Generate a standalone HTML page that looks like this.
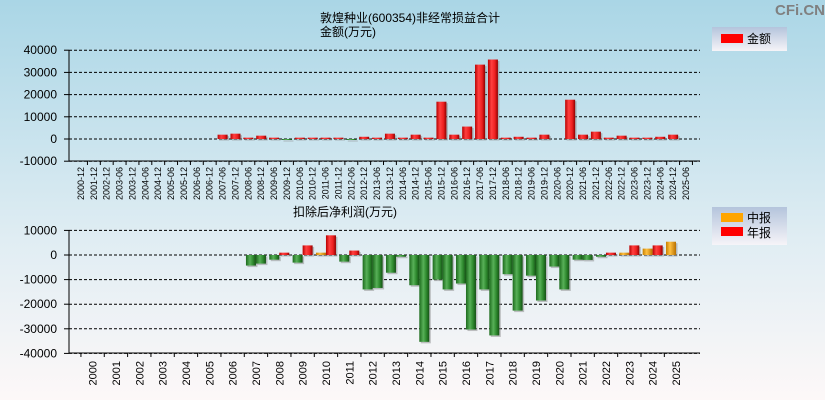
<!DOCTYPE html>
<html><head><meta charset="utf-8">
<style>
body{margin:0;width:825px;height:400px;overflow:hidden;font-family:"Liberation Sans","Noto Sans CJK SC",sans-serif;}
svg{display:block}
</style></head>
<body>
<svg id="c" width="825" height="400" xmlns="http://www.w3.org/2000/svg">
<defs>
<linearGradient id="bg" x1="0" y1="0" x2="0" y2="1"><stop offset="0" stop-color="#aad6e6"/><stop offset="0.6" stop-color="#e0edf3"/><stop offset="1" stop-color="#fdf8f8"/></linearGradient>
<linearGradient id="gr" x1="0" x2="1"><stop offset="0" stop-color="#b80000"/><stop offset="0.35" stop-color="#ff4040"/><stop offset="0.7" stop-color="#ee2020"/><stop offset="1" stop-color="#900000"/></linearGradient>
<linearGradient id="gg" x1="0" x2="1"><stop offset="0" stop-color="#1d6b1d"/><stop offset="0.4" stop-color="#58b058"/><stop offset="0.7" stop-color="#2e8a2e"/><stop offset="1" stop-color="#155015"/></linearGradient>
<linearGradient id="go" x1="0" x2="1"><stop offset="0" stop-color="#c88000"/><stop offset="0.4" stop-color="#ffc040"/><stop offset="1" stop-color="#b87000"/></linearGradient>
<linearGradient id="lg" x1="0" y1="0" x2="0" y2="1"><stop offset="0" stop-color="#b4c4dc"/><stop offset="1" stop-color="#f6f4f8"/></linearGradient>
</defs>
<rect width="825" height="400" fill="url(#bg)"/>
<text x="800" y="15" font-size="15" font-weight="bold" fill="#808080" text-anchor="middle">CFi.CN</text>
<text x="410" y="22" font-size="12" text-anchor="middle">敦煌种业(600354)非经常损益合计</text>
<text x="348" y="36" font-size="12" text-anchor="middle">金额(万元)</text>
<text x="345" y="216" font-size="12" text-anchor="middle">扣除后净利润(万元)</text>
<g>
<rect x="712" y="27" width="75" height="24" fill="url(#lg)"/>
<rect x="721" y="34" width="22" height="9" fill="#ff0000"/>
<text x="747" y="43" font-size="12">金额</text>
</g>
<g>
<rect x="712" y="207" width="75" height="38" fill="url(#lg)"/>
<rect x="721" y="213" width="22" height="9" fill="#ffa500"/>
<text x="747" y="222" font-size="12">中报</text>
<rect x="721" y="227" width="22" height="9" fill="#ff0000"/>
<text x="747" y="237" font-size="12">年报</text>
</g>
<g id="top"></g><g id="bot"></g>
</svg>
<script>
const topCats=["2000-12","2001-12","2002-12","2003-06","2003-12","2004-06","2004-12","2005-06","2005-12","2006-06","2006-12","2007-06","2007-12","2008-06","2008-12","2009-06","2009-12","2010-06","2010-12","2011-06","2011-12","2012-06","2012-12","2013-06","2013-12","2014-06","2014-12","2015-06","2015-12","2016-06","2016-12","2017-06","2017-12","2018-06","2018-12","2019-06","2019-12","2020-06","2020-12","2021-06","2021-12","2022-06","2022-12","2023-06","2023-12","2024-06","2024-12","2025-06"];
const topVals=[null,null,null,null,null,null,null,null,null,null,null,1950,2400,600,1500,600,-300,600,600,600,600,-300,1000,600,2400,600,1950,600,16800,1950,5600,33500,35800,600,1000,600,1950,null,17700,1950,3300,600,1500,600,600,1000,1950,null];
const topTicks=[40000,30000,20000,10000,0,-10000];
const botCats=["2000","2001","2002","2003","2004","2005","2006","2007","2008","2009","2010","2011","2012","2013","2014","2015","2016","2017","2018","2019","2020","2021","2022","2023","2024","2025"];
const botHalf=[null,null,null,null,null,null,null,-4300,-1900,-3100,950,-2700,-14000,-7200,-12300,-10000,-11600,-14000,-7800,-8400,-4700,-1900,-700,950,2600,5400];
const botYear=[null,null,null,null,null,null,null,-3500,950,3900,8000,1800,-13400,-700,-35300,-14000,-30300,-32700,-22600,-18500,-14000,-2000,950,3900,3900,null];
const botTicks=[10000,0,-10000,-20000,-30000,-40000];
const NS="http://www.w3.org/2000/svg";
function mk(p,t,a){const e=document.createElementNS(NS,t);for(const k in a)e.setAttribute(k,a[k]);p.appendChild(e);return e;}
const X0=69,X1=700;
function axes(g,ticks,y,yTop,yBot,name){
  ticks.forEach(t=>{
    const yy=y(t);
    const l=mk(g,'line',{x1:X0,x2:X1,y1:yy,y2:yy,stroke:'#000','stroke-dasharray':'3,2','stroke-width':1});
    
    
    mk(g,'line',{x1:X0-5,x2:X0,y1:yy,y2:yy,stroke:'#000'});
    const tx=mk(g,'text',{x:X0-12,y:yy+4,'font-size':12,'text-anchor':'end'});tx.textContent=t;
    
    
  });
  const ax=mk(g,'line',{x1:X0,x2:X0,y1:yTop,y2:yBot,stroke:'#000'});
  
  
  const bx=mk(g,'line',{x1:X0,x2:X1,y1:yBot,y2:yBot,stroke:'#000'});
  
  
}
function bar(g,cx,w,y0,yv,fill,name){
  const top=Math.min(y0,yv),h=Math.max(Math.abs(yv-y0),1);
  mk(g,'rect',{x:cx-w/2+1.5,y:top+1.5,width:w,height:h,fill:'#888','opacity':0.5});
  const r=mk(g,'rect',{x:cx-w/2,y:top,width:w,height:h,fill:fill});
  
  
}
// top chart
(function(){
  const g=document.getElementById('top');
  const y=v=>139-v*22.2/10000;
  axes(g,topTicks,y,50,161,'top');
  const step=(686-81)/(topCats.length-1);
  const x=i=>81+i*step;
  topCats.forEach((c,i)=>{
    mk(g,'line',{x1:x(i)+step/2,x2:x(i)+step/2,y1:161,y2:165,stroke:'#000'});
    const t=mk(g,'text',{x:0,y:0,'font-size':9,'text-anchor':'end',transform:`translate(${x(i)+3},167) rotate(-90)`});
    t.textContent=c;
    
    
    const v=topVals[i];
    if(v!==null&&v!==undefined)bar(g,x(i),10,y(0),y(v),v>=0?'url(#gr)':'url(#gg)','top-bar-'+c);
  });
})();
// bottom chart
(function(){
  const g=document.getElementById('bot');
  const y=v=>255-v*24.6/10000;
  axes(g,botTicks,y,230,353,'bottom');
  const step=(676-92.6)/(botCats.length-1);
  const x=i=>92.6+i*step;
  botCats.forEach((c,i)=>{
    mk(g,'line',{x1:x(i)-step/2,x2:x(i)-step/2,y1:353,y2:357,stroke:'#000'});
    const t=mk(g,'text',{x:0,y:0,'font-size':11,'text-anchor':'end',transform:`translate(${x(i)+4},361) rotate(-90)`});
    t.textContent=c;
    
    
    const h=botHalf[i],a=botYear[i];
    if(h!==null)bar(g,x(i)-5,10,y(0),y(h),h>=0?'url(#go)':'url(#gg)','half-bar-'+c);
    if(a!==null)bar(g,x(i)+5,10,y(0),y(a),a>=0?'url(#gr)':'url(#gg)','annual-bar-'+c);
  });
})();
</script>
</body></html>
